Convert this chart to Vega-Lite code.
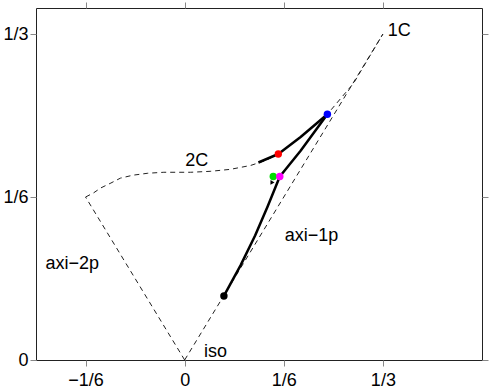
{
  "$schema": "https://vega.github.io/schema/vega-lite/v6.json",
  "width": 446,
  "height": 352,
  "autosize": {"type": "none"},
  "padding": {"left": 36, "top": 8, "right": 9, "bottom": 32},
  "background": "white",
  "config": {
    "view": {"stroke": "#222", "strokeWidth": 1},
    "axis": {
      "grid": false,
      "domain": false,
      "tickColor": "#888",
      "tickSize": 6,
      "labelFont": "Liberation Sans",
      "labelFontSize": 18,
      "labelColor": "#000",
      "title": null
    },
    "text": {"font": "Liberation Sans", "fontSize": 18, "color": "#000"}
  },
  "datasets": {
    "lines": [
      {"series": "axi1p", "kind": "dashed", "ord": 0, "x": 0, "y": 0},
      {"series": "axi1p", "kind": "dashed", "ord": 1, "x": 0.33333, "y": 0.33333},
      {"series": "axi2p", "kind": "dashed", "ord": 0, "x": 0, "y": 0},
      {"series": "axi2p", "kind": "dashed", "ord": 1, "x": -0.16667, "y": 0.16667},
      {"series": "c2", "kind": "dashed", "ord": 0, "x": -0.16667, "y": 0.16667},
      {"series": "c2", "kind": "dashed", "ord": 1, "x": -0.153, "y": 0.171},
      {"series": "c2", "kind": "dashed", "ord": 2, "x": -0.141, "y": 0.176},
      {"series": "c2", "kind": "dashed", "ord": 3, "x": -0.124, "y": 0.181},
      {"series": "c2", "kind": "dashed", "ord": 4, "x": -0.108, "y": 0.186},
      {"series": "c2", "kind": "dashed", "ord": 5, "x": -0.087, "y": 0.189},
      {"series": "c2", "kind": "dashed", "ord": 6, "x": -0.062, "y": 0.191},
      {"series": "c2", "kind": "dashed", "ord": 7, "x": -0.035, "y": 0.192},
      {"series": "c2", "kind": "dashed", "ord": 8, "x": -0.012, "y": 0.192},
      {"series": "c2", "kind": "dashed", "ord": 9, "x": 0.010, "y": 0.192},
      {"series": "c2", "kind": "dashed", "ord": 10, "x": 0.044, "y": 0.193},
      {"series": "c2", "kind": "dashed", "ord": 11, "x": 0.077, "y": 0.195},
      {"series": "c2", "kind": "dashed", "ord": 12, "x": 0.111, "y": 0.199},
      {"series": "c2", "kind": "dashed", "ord": 13, "x": 0.136, "y": 0.204},
      {"series": "c2", "kind": "dashed", "ord": 14, "x": 0.1575, "y": 0.2107},
      {"series": "c2", "kind": "dashed", "ord": 15, "x": 0.195, "y": 0.228},
      {"series": "c2", "kind": "dashed", "ord": 16, "x": 0.240, "y": 0.2514},
      {"series": "c2", "kind": "dashed", "ord": 17, "x": 0.284, "y": 0.283},
      {"series": "c2", "kind": "dashed", "ord": 18, "x": 0.33333, "y": 0.33333},
      {"series": "sA", "kind": "solid", "ord": 0, "x": 0.124, "y": 0.202},
      {"series": "sA", "kind": "solid", "ord": 1, "x": 0.1575, "y": 0.2107},
      {"series": "sA", "kind": "solid", "ord": 2, "x": 0.195, "y": 0.228},
      {"series": "sA", "kind": "solid", "ord": 3, "x": 0.240, "y": 0.2514},
      {"series": "sB", "kind": "solid", "ord": 0, "x": 0.240, "y": 0.2514},
      {"series": "sB", "kind": "solid", "ord": 1, "x": 0.195, "y": 0.214},
      {"series": "sB", "kind": "solid", "ord": 2, "x": 0.160, "y": 0.1876},
      {"series": "sB", "kind": "solid", "ord": 3, "x": 0.1395, "y": 0.157},
      {"series": "sB", "kind": "solid", "ord": 4, "x": 0.1185, "y": 0.1274},
      {"series": "sB", "kind": "solid", "ord": 5, "x": 0.094, "y": 0.0968},
      {"series": "sB", "kind": "solid", "ord": 6, "x": 0.066, "y": 0.0655}
    ],
    "points": [
      {"name": "black", "x": 0.066, "y": 0.0655},
      {"name": "blue", "x": 0.240, "y": 0.2514},
      {"name": "red", "x": 0.1575, "y": 0.2107},
      {"name": "green", "x": 0.149, "y": 0.1876},
      {"name": "magenta", "x": 0.160, "y": 0.1876}
    ],
    "arrows": [
      {"x": 0.146, "y": 0.181}
    ],
    "labels": [
      {"label": "1C", "x": 0.361, "y": 0.336},
      {"label": "2C", "x": 0.0202, "y": 0.2039},
      {"label": "axi−1p", "x": 0.2134, "y": 0.1264},
      {"label": "axi−2p", "x": -0.189, "y": 0.0979},
      {"label": "iso", "x": 0.052, "y": 0.0082}
    ]
  },
  "layer": [
    {
      "data": {"name": "lines"},
      "transform": [{"filter": "datum.kind === 'dashed'"}],
      "mark": {"type": "line", "color": "#222", "strokeWidth": 1, "strokeDash": [5, 4], "clip": true},
      "encoding": {
        "x": {"field": "x", "type": "quantitative", "scale": {"domain": [-0.25, 0.5], "nice": false, "zero": false},
          "axis": {"orient": "bottom", "values": [-0.166667, 0, 0.166667, 0.333333], "labelPadding": 5,
            "labelExpr": "datum.value < -0.1 ? '−1/6' : datum.value < 0.05 ? '0' : datum.value < 0.25 ? '1/6' : '1/3'"}},
        "y": {"field": "y", "type": "quantitative", "scale": {"domain": [0, 0.36], "nice": false, "zero": false},
          "axis": {"orient": "left", "values": [0, 0.166667, 0.333333], "labelPadding": 2,
            "labelExpr": "datum.value < 0.05 ? '0' : datum.value < 0.25 ? '1/6' : '1/3'"}},
        "detail": {"field": "series"},
        "order": {"field": "ord"}
      }
    },
    {
      "data": {"name": "lines"},
      "transform": [{"filter": "datum.kind === 'solid'"}],
      "mark": {"type": "line", "color": "#000", "strokeWidth": 2.5, "interpolate": "linear", "strokeJoin": "round"},
      "encoding": {
        "x": {"field": "x", "type": "quantitative",
          "axis": {"orient": "top", "values": [-0.166667, 0, 0.166667, 0.333333], "labels": false}},
        "y": {"field": "y", "type": "quantitative",
          "axis": {"orient": "right", "values": [0, 0.166667, 0.333333], "labels": false}},
        "detail": {"field": "series"},
        "order": {"field": "ord"}
      }
    },
    {
      "data": {"name": "arrows"},
      "mark": {"type": "point", "filled": true, "opacity": 1, "size": 22, "shape": "triangle-down", "angle": 30, "color": "#000"},
      "encoding": {
        "x": {"field": "x", "type": "quantitative", "axis": null},
        "y": {"field": "y", "type": "quantitative", "axis": null}
      }
    },
    {
      "data": {"name": "points"},
      "mark": {"type": "point", "filled": true, "opacity": 1, "size": 55, "shape": "circle"},
      "encoding": {
        "x": {"field": "x", "type": "quantitative", "axis": null},
        "y": {"field": "y", "type": "quantitative", "axis": null},
        "color": {"field": "name", "type": "nominal", "legend": null,
          "scale": {"domain": ["black", "blue", "red", "green", "magenta"], "range": ["#000000", "#0000ff", "#ff0000", "#00e000", "#ff00ff"]}}
      }
    },
    {
      "data": {"name": "labels"},
      "mark": {"type": "text", "align": "center", "baseline": "middle"},
      "encoding": {
        "x": {"field": "x", "type": "quantitative", "axis": null},
        "y": {"field": "y", "type": "quantitative", "axis": null},
        "text": {"field": "label"}
      }
    }
  ],
  "resolve": {"axis": {"x": "independent", "y": "independent"}}
}
